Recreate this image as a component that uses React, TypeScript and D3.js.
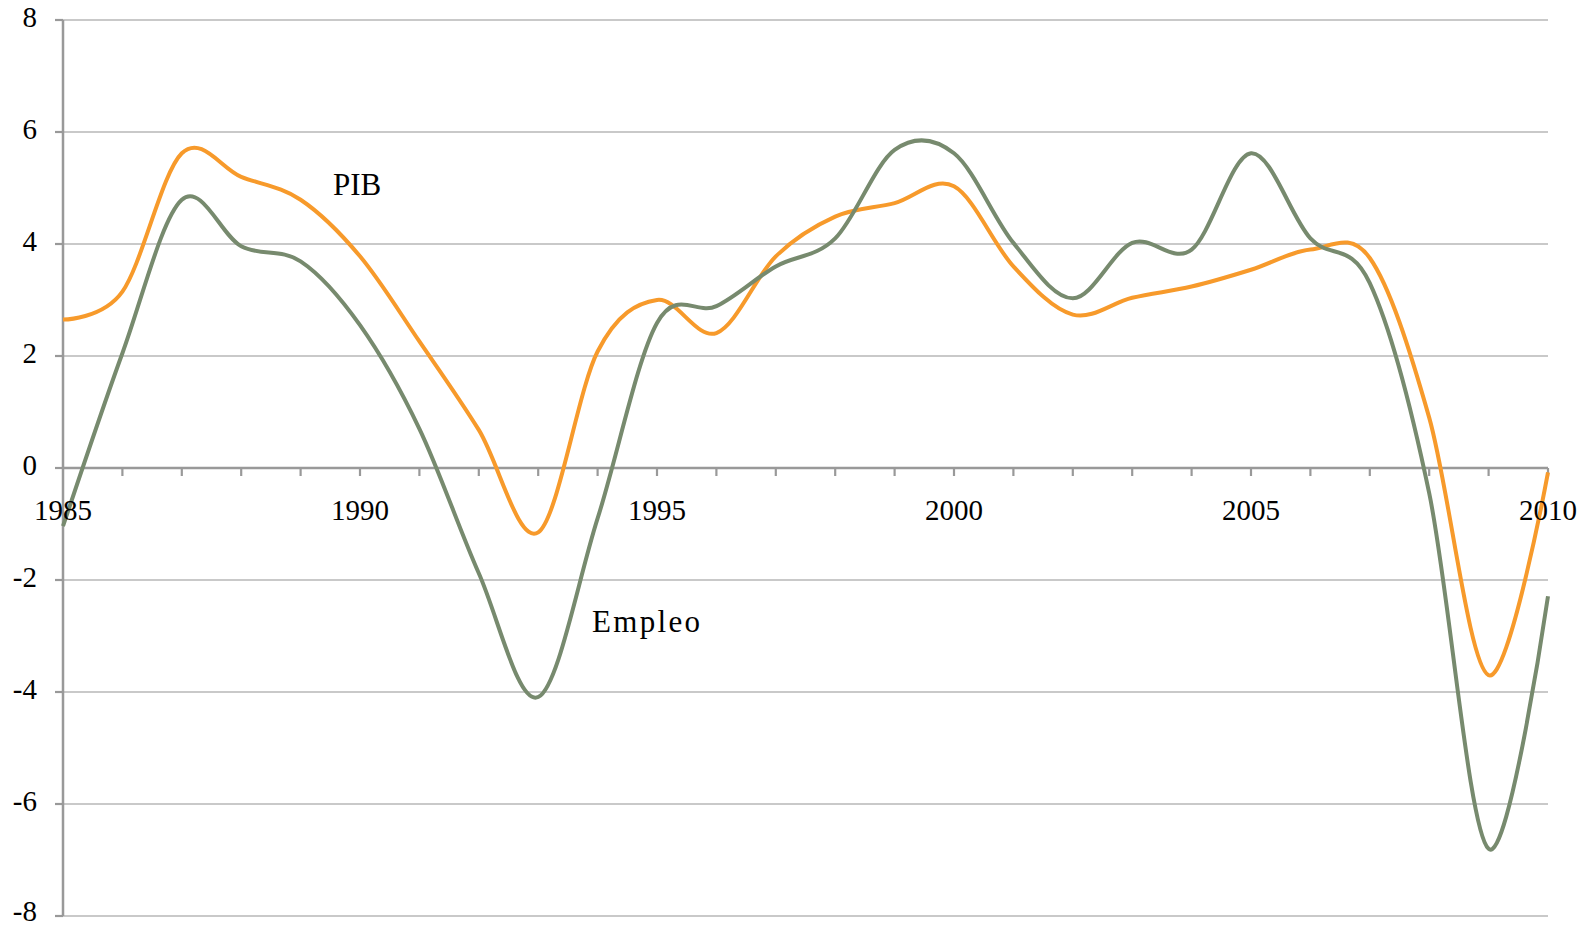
import * as d3 from 'd3';

// growth rates (%), one value per year 1985-2010
const years = d3.range(1985, 2011);
const pib = [2.65, 3.15, 5.62, 5.2, 4.79, 3.78, 2.26, 0.68, -1.15, 2.08, 3.0, 2.41, 3.78, 4.49, 4.73, 5.03, 3.6, 2.74, 3.04, 3.24, 3.54, 3.9, 3.75, 0.9, -3.7, -0.08];
const empleo = [-1.04, 2.05, 4.79, 3.96, 3.69, 2.55, 0.7, -1.88, -4.09, -0.9, 2.59, 2.89, 3.6, 4.1, 5.68, 5.62, 4.02, 3.03, 4.02, 3.9, 5.62, 4.1, 3.3, -0.45, -6.8, -2.29];
const yTicks = [8, 6, 4, 2, 0, -2, -4, -6, -8];
const xLabels = [1985, 1990, 1995, 2000, 2005, 2010];

const W = 1591;
const H = 927;
const FONT = '"Liberation Serif", "Times New Roman", serif';

export default function App() {
    const x = d3.scaleLinear().domain([1985, 2010]).range([63, 1548]);
    const y = d3.scaleLinear().domain([-8, 8]).range([916, 20]);

    const line = d3.line<number>()
        .x((_, i) => x(years[i]))
        .y(d => y(d))
        .curve(d3.curveCardinal.tension(0));

    const y0 = y(0);

    return (
        <svg width={W} height={H} style={{ position: 'absolute', left: 0, top: 0, background: '#fff' }}>
            {/* gridlines */}
            {yTicks.map(t => (
                <g key={t}>
                    {t !== 0 && (
                        <line x1={x(1985)} x2={x(2010)} y1={y(t)} y2={y(t)} stroke="#c9c9c9" strokeWidth={2.2} />
                    )}
                    <line x1={55} x2={x(1985)} y1={y(t)} y2={y(t)} stroke="#999" strokeWidth={2.2} />
                    <text x={37} y={Math.min(y(t) + 7, 921)} textAnchor="end" fontFamily={FONT} fontSize={29} fill="#000">
                        {t}
                    </text>
                </g>
            ))}

            {/* y axis */}
            <line x1={x(1985)} x2={x(1985)} y1={y(8)} y2={y(-8)} stroke="#999" strokeWidth={2.5} />

            {/* x axis at zero */}
            <line x1={x(1985)} x2={x(2010)} y1={y0} y2={y0} stroke="#999" strokeWidth={2.5} />
            {years.slice(1).map(yr => (
                <line key={yr} x1={x(yr)} x2={x(yr)} y1={y0} y2={y0 + 8} stroke="#999" strokeWidth={2.2} />
            ))}

            {/* series */}
            <path d={line(pib) ?? ''} fill="none" stroke="#f79a2b" strokeWidth={4} />
            <path d={line(empleo) ?? ''} fill="none" stroke="#778a6e" strokeWidth={4} />

            {/* year labels */}
            {xLabels.map(yr => (
                <text key={yr} x={x(yr)} y={y0 + 52} textAnchor="middle" fontFamily={FONT} fontSize={29} fill="#000">
                    {yr}
                </text>
            ))}

            {/* series labels */}
            <text x={333} y={195} fontFamily={FONT} fontSize={31} fill="#000">PIB</text>
            <text x={592} y={632} fontFamily={FONT} fontSize={31} fill="#000" textLength={108} lengthAdjust="spacing">Empleo</text>
        </svg>
    );
}
